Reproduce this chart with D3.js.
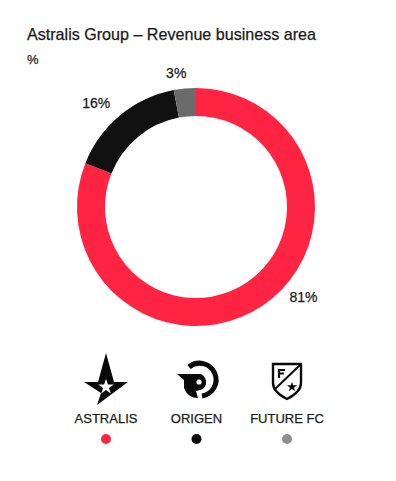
<!DOCTYPE html>
<html>
<head>
<meta charset="utf-8">
<script src="https://cdn.jsdelivr.net/npm/d3@7"></script>
<style>
  html, body { margin: 0; padding: 0; background: #fff; }
  text { font-family: "Liberation Sans", sans-serif; fill: #1a1a1a; stroke: #1a1a1a; stroke-width: 0.25px; }
</style>
</head>
<body>
<svg id="chart" width="396" height="481"></svg>
<script>
const categories = ["ASTRALIS", "ORIGEN", "FUTURE FC"];
const shares = [81, 16, 3];
const sliceColors = ["#ff2442", "#111111", "#6b6b6b"];
const dotColors = ["#ff2442", "#0a0a0a", "#8f8f8f"];

const svg = d3.select("#chart");

svg.append("text").attr("x", 27).attr("y", 40)
  .style("font-size", "16.1px")
  .text("Astralis Group – Revenue business area");
svg.append("text").attr("x", 27).attr("y", 64)
  .style("font-size", "13px")
  .text("%");

// donut, clockwise from 12 o'clock
const cx = 196, cy = 207, outer = 119, inner = 91;
const pie = d3.pie().sort(null).value(d => d);
const arc = d3.arc().innerRadius(inner).outerRadius(outer);
const donut = svg.append("g").attr("transform", `translate(${cx},${cy})`);
const slices = pie(shares);

donut.selectAll("path")
  .data(slices)
  .enter()
  .append("path")
  .attr("d", arc)
  .attr("fill", (d, i) => sliceColors[i]);

// labels sit on a ring, nudged by hand like the original
const labelArc = d3.arc().innerRadius(outer + 17).outerRadius(outer + 17);
const labelNudge = [[31, -22], [-13, 1], [-7, 1]];
donut.selectAll("text")
  .data(slices)
  .enter()
  .append("text")
  .attr("transform", (d, i) => {
    const p = labelArc.centroid(d);
    return `translate(${p[0] + labelNudge[i][0]},${p[1] + labelNudge[i][1]})`;
  })
  .attr("text-anchor", "middle")
  .attr("dy", "0.35em")
  .style("font-size", "14px")
  .text(d => d.data + "%");

// legend columns
const legendX = d3.scalePoint().domain(categories).range([106, 287]);

const legend = svg.selectAll("g.legend")
  .data(categories)
  .enter()
  .append("g")
  .attr("class", "legend")
  .attr("transform", d => `translate(${legendX(d)},0)`);

legend.append("text")
  .attr("y", 423)
  .attr("text-anchor", "middle")
  .style("font-size", "13px")
  .text(d => d);

legend.append("circle")
  .attr("cy", 439)
  .attr("r", 5)
  .attr("fill", (d, i) => dotColors[i]);

// logos
const astralis = svg.append("g").attr("transform", "translate(106,380)");
astralis.append("path").attr("fill", "#0a0a0a")
  .attr("d", "M0,-27 L8,2 L22,2 L-9,25 L-5,13 L-22,2 L-8,2 Z");
astralis.append("path").attr("fill", "#fff")
  .attr("d", d3.symbol().type(d3.symbolStar).size(75)())
  .attr("transform", "translate(0,7)");

const origen = svg.append("g").attr("transform", "translate(197,381)");
origen.append("path").attr("fill", "none").attr("stroke", "#0a0a0a").attr("stroke-width", 5)
  .attr("d", "M-8,-14 A16.5,16.5 0 1 1 5,15");
origen.append("path").attr("fill", "#0a0a0a")
  .attr("d", "M-20,-7 L4,-7 A9,9 0 0 1 9,3 A8,8 0 0 1 3,9 L-1,10 L1,17 A14,14 0 0 1 -13,7 L-13,-1 Z");
origen.append("circle").attr("cx", 2).attr("cy", 1).attr("r", 2.6).attr("fill", "#fff");

const future = svg.append("g").attr("transform", "translate(287,380)");
future.append("path").attr("fill", "#fff").attr("stroke", "#0a0a0a").attr("stroke-width", 2.4)
  .attr("d", "M-14,-16 L14,-16 L14,3 C14,11 6,16 0,19 C-6,16 -14,11 -14,3 Z");
future.append("path").attr("fill", "none").attr("stroke", "#0a0a0a").attr("stroke-width", 2)
  .attr("d", "M13,-15 L-13,10");
future.append("path").attr("fill", "none").attr("stroke", "#0a0a0a").attr("stroke-width", 2.2)
  .attr("d", "M-8,-2 L-8,-10 L-2,-10 M-8,-6.5 L-3,-6.5");
future.append("path").attr("fill", "#0a0a0a")
  .attr("d", d3.symbol().type(d3.symbolStar).size(32)())
  .attr("transform", "translate(5,7)");
</script>
</body>
</html>
